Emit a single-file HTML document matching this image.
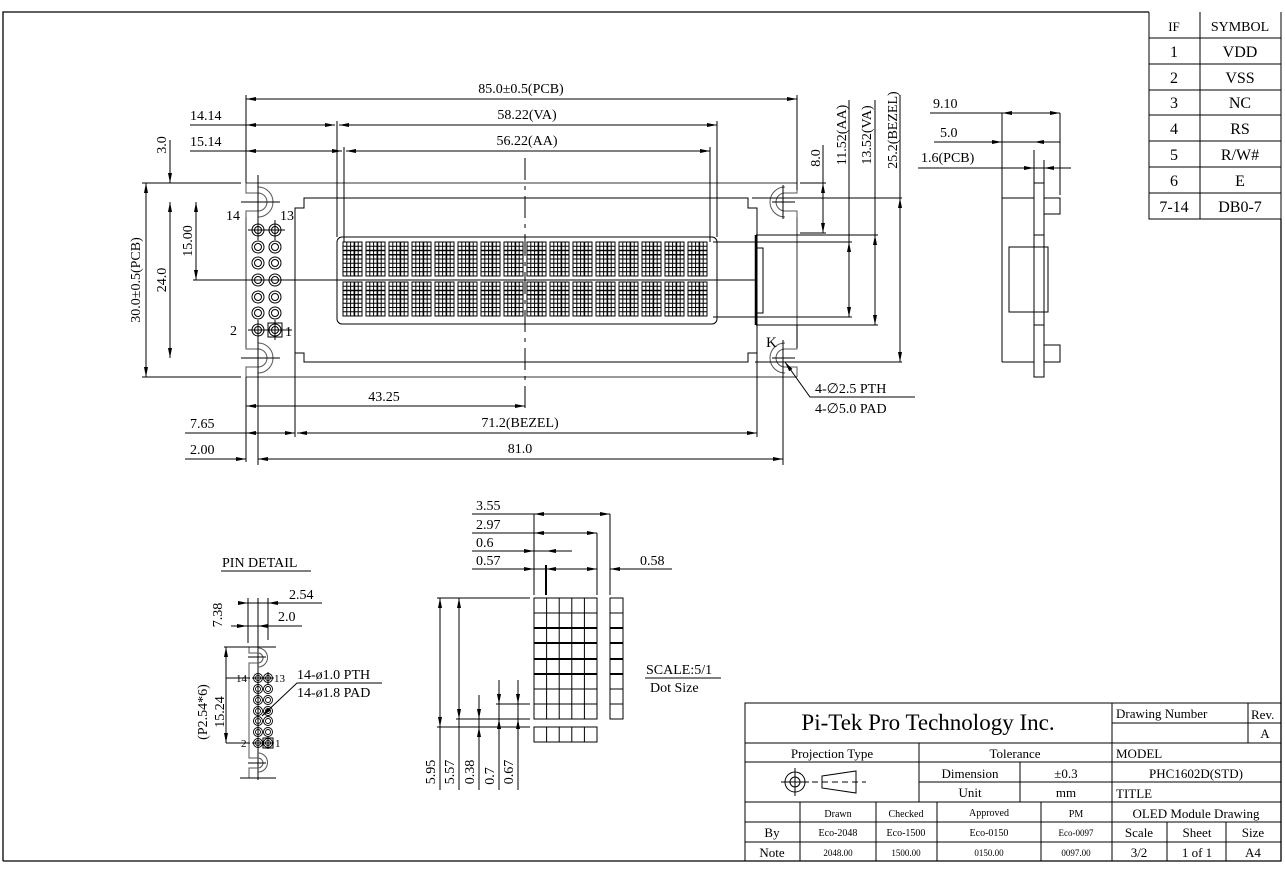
<!DOCTYPE html>
<html><head><meta charset="utf-8"><style>
html,body{margin:0;padding:0;background:#fff;}
svg{display:block;font-family:"Liberation Serif",serif;}
</style></head><body>
<svg width="1285" height="872" viewBox="0 0 1285 872" xmlns="http://www.w3.org/2000/svg">
<defs>
<marker id="m" viewBox="0 0 10 4" refX="10" refY="2" markerWidth="10" markerHeight="4" markerUnits="userSpaceOnUse" orient="auto-start-reverse"><path d="M0,0L10,2L0,4z" fill="#000"/></marker>
<symbol id="ch" viewBox="0 0 19 34" width="19" height="34" overflow="visible">
<g stroke="#000" stroke-width="1" fill="none">
<rect x="0" y="0" width="19" height="34"/>
<path d="M3.8,0V34M7.6,0V34M11.4,0V34M15.2,0V34M0,4.25H19M0,8.5H19M0,12.75H19M0,17H19M0,21.25H19M0,25.5H19M0,29.75H19"/>
<path d="M0,8.5H19M0,12.75H19M11.4,0V34" stroke-width="1.6"/>
</g></symbol>
<symbol id="pin" overflow="visible"><circle r="6" fill="none" stroke="#000"/><circle r="3.5" fill="none" stroke="#000"/></symbol>
<symbol id="pp" overflow="visible"><circle r="4.5" fill="none" stroke="#000" stroke-width="0.9"/><circle r="2.5" fill="none" stroke="#000" stroke-width="0.9"/></symbol>
</defs>
<g fill="none" stroke="#000" stroke-width="1">
<path d="M3,861V12H1149M1281,219V861H3" stroke-width="1.3"/>
<path d="M1149,12V219H1281M1281,12V219M1200,12V219M1149,38H1281M1149,64H1281M1149,90H1281M1149,115H1281M1149,141H1281M1149,167H1281M1149,193H1281"/>

<g stroke="#999" stroke-width="2">
<path d="M246,183H797M246,377H797"/>
<path d="M246,217V348"/>
<path d="M797,217V348"/>
</g>
<g stroke="#555">
<path d="M246,183V193H258A9,9 0 0 1 258,211H246V217M258,187A15,15 0 0 1 258,217"/>
<path d="M246,348V349H258A9,9 0 0 1 258,367H246V377M258,343A15,15 0 0 1 258,373"/>
<path d="M797,183V193H785A9,9 0 0 0 785,211H797V217M785,187A15,15 0 0 0 785,217"/>
<path d="M797,325V349H785A9,9 0 0 0 785,367H797V377M785,343A15,15 0 0 0 785,373"/>
</g>
<path d="M241,202H280M258,175V230M241,358H280M258,340V465M772,202H795M783,185V219M772,358H795M783,340V465"/>
<path d="M304,198H748V208H757V353H748V362H304V353H295V208H304Z"/>
<path d="M295,353V437M757,353V437"/>
<rect x="337" y="237" width="380" height="87" rx="5"/>
<path d="M756,235V325" stroke-width="2.5"/>
<path d="M756,235H878M756,325H878M713,242H852M713,317H852M756,325H797"/>
<rect x="757" y="248" width="6" height="65"/>
<path d="M246,95V183M797,95V190M337,121V237M344,147V242M717,121V237M710,147V242"/>
<path d="M246,377V462M258,377V462M783,377V462"/>
<path d="M752,198H902M755,362H902M800,183H826M800,233H826"/>
<path d="M142,183H241M142,377H241M193,280H755"/>
<path d="M525,158V410" stroke-dasharray="22,6,4,6"/>
<g marker-start="url(#m)" marker-end="url(#m)">
<path d="M246,99H797"/>
<path d="M246,125H335"/><path d="M339,125H717"/>
<path d="M246,151H342"/><path d="M346,151H710"/>
<path d="M823,183V233"/><path d="M849,242V317"/><path d="M875,235V325"/><path d="M900,198V362"/>
<path d="M146,183V377"/><path d="M170,202V358"/><path d="M196,202V280"/>
<path d="M246,406H525"/>
<path d="M246,433H295"/><path d="M297,433H757"/>
<path d="M258,459H783"/>
</g>
<path d="M190,125H246M190,151H246M823,145V183M849,100V242M875,100V235M900,95V198M185,433H246"/>
<path d="M170,140V183" marker-end="url(#m)"/>
<path d="M185,459H246" marker-end="url(#m)"/>
<path d="M915,397H810L785,362" marker-end="url(#m)"/>

<path d="M1002,113V362M1002,198H1034M1002,362H1034"/>
<rect x="1034" y="183" width="10" height="194"/>
<path d="M1034,235H1044M1034,325H1044"/>
<rect x="1044" y="198" width="16" height="16"/>
<rect x="1044" y="345" width="16" height="17"/>
<rect x="1009" y="247" width="39" height="65"/>
<path d="M1034,150V183M1044,160V183M1060,113V195"/>
<path d="M930,113H1060M934,142H1060M918,168H1071"/>
<path d="M1010,113H1002" marker-end="url(#m)"/><path d="M1050,113H1060" marker-end="url(#m)"/>
<path d="M990,142H1002" marker-end="url(#m)"/><path d="M1046,142H1034" marker-end="url(#m)"/>
<path d="M1020,168H1034" marker-end="url(#m)"/><path d="M1056,168H1044" marker-end="url(#m)"/>

<path d="M221,571H311"/>
<path d="M239,603H322M231,626H302M258,598V780M268,598V640M248,598V643"/>
<path d="M239,603H248" marker-end="url(#m)"/><path d="M278,603H268" marker-end="url(#m)"/>
<path d="M231,626H247" marker-end="url(#m)"/><path d="M268,626H258" marker-end="url(#m)"/>
<g stroke="#555">
<path d="M249,647V653H258A5,5 0 0 1 258,663H249V668M258,648A9,9 0 0 1 258,667"/>
<path d="M249,668V752M249,752V758H258A5,5 0 0 1 258,768H249V778M258,753A9,9 0 0 1 258,772"/>
</g>
<path d="M224,647H276M226,678H250M226,743H250M240,778H276M248,657H266M248,763H266"/>
<path d="M226,647V743" marker-start="url(#m)" marker-end="url(#m)"/>
<path d="M382,683H297L262,716" marker-end="url(#m)"/>
<rect x="263" y="738" width="10" height="10"/>
<path d="M252,678H274M252,743H274M258,672V684M268,672V684M268,737V749"/>

<path d="M472,514H610M472,533H597M472,551H572M472,569H597M610,569H672"/>
<path d="M534,514V595M546,565V595M597,533V595M610,514V595"/>
<path d="M546,565V595" stroke-width="2"/>
<path d="M534,514H610" marker-start="url(#m)" marker-end="url(#m)"/>
<path d="M534,533H597" marker-start="url(#m)" marker-end="url(#m)"/>
<path d="M520,551H534" marker-end="url(#m)"/><path d="M560,551H546" marker-end="url(#m)"/>
<path d="M520,569H534" marker-end="url(#m)"/><path d="M546,569H597" marker-start="url(#m)" marker-end="url(#m)"/>
<path d="M624,569H610" marker-end="url(#m)"/>
<rect x="534" y="598" width="63" height="121"/>
<path d="M546.6,598V719M559.2,598V719M571.8,598V719M584.4,598V719M534,613H597M534,628H597M534,643H597M534,659H597M534,674H597M534,689H597M534,704H597"/>
<path d="M534,628H597M534,643H597M534,659H597M534,674H597M610,628H623M610,643H623M610,659H623M610,674H623" stroke-width="2"/>
<rect x="610" y="598" width="13" height="121"/>
<path d="M610,613H623M610,628H623M610,643H623M610,659H623M610,674H623M610,689H623M610,704H623"/>
<rect x="534" y="727" width="63" height="15"/>
<path d="M546.6,727V742M559.2,727V742M571.8,727V742M584.4,727V742"/>
<path d="M437,598H530M456,719H530M437,727H530M496,704H530"/>
<path d="M440,598V727" marker-start="url(#m)" marker-end="url(#m)"/>
<path d="M459,598V719" marker-start="url(#m)" marker-end="url(#m)"/>
<path d="M440,727V790M459,719V790M479,695V790M499,680V790M518,680V790"/>
<path d="M479,695V719" marker-end="url(#m)"/><path d="M479,760V727" marker-end="url(#m)"/>
<path d="M499,680V704" marker-end="url(#m)"/><path d="M499,760V719" marker-end="url(#m)"/>
<path d="M518,680V704" marker-end="url(#m)"/><path d="M518,760V719" marker-end="url(#m)"/>
<path d="M645,678H721"/>

<rect x="745" y="703" width="536" height="158"/>
<path d="M745,743H1281M745,762H1112M1112,762H1281M919,782H1112M1112,782H1281M745,802H1281M745,822H1281M745,842H1281"/>
<path d="M1112,703V861M1248,703V743M1112,723H1281M919,743V802M1020,762V802M800,802V861M876,802V861M937,802V861M1041,802V861M1167,822V861M1226,822V861"/>
<circle cx="795" cy="782" r="10"/><circle cx="795" cy="782" r="5"/>
<path d="M781,782H809M795,768V796"/>
<path d="M822,776L856,771V793L822,788Z"/>
<path d="M812,782H866" stroke-dasharray="6,4"/>
</g>

<g>
<use href="#pin" x="258" y="230"/><use href="#pin" x="275" y="230"/>
<use href="#pin" x="258" y="247"/><use href="#pin" x="275" y="247"/>
<use href="#pin" x="258" y="263"/><use href="#pin" x="275" y="263"/>
<use href="#pin" x="258" y="280"/><use href="#pin" x="275" y="280"/>
<use href="#pin" x="258" y="297"/><use href="#pin" x="275" y="297"/>
<use href="#pin" x="258" y="313"/><use href="#pin" x="275" y="313"/>
<use href="#pin" x="258" y="330"/><use href="#pin" x="275" y="330"/>
</g>
<g stroke="#000" fill="none"><path d="M248,230H285M258,220V240M275,220V240M248,330H292M258,320V340M275,320V340"/><rect x="268" y="323" width="14" height="14"/></g>
<g>
<use href="#pp" x="258" y="678"/><use href="#pp" x="268" y="678"/>
<use href="#pp" x="258" y="689"/><use href="#pp" x="268" y="689"/>
<use href="#pp" x="258" y="700"/><use href="#pp" x="268" y="700"/>
<use href="#pp" x="258" y="711"/><use href="#pp" x="268" y="711"/>
<use href="#pp" x="258" y="721"/><use href="#pp" x="268" y="721"/>
<use href="#pp" x="258" y="732"/><use href="#pp" x="268" y="732"/>
<use href="#pp" x="258" y="743"/><use href="#pp" x="268" y="743"/>
</g>
<g>
<use href="#ch" x="343" y="242"/><use href="#ch" x="366" y="242"/><use href="#ch" x="389" y="242"/><use href="#ch" x="412" y="242"/>
<use href="#ch" x="435" y="242"/><use href="#ch" x="458" y="242"/><use href="#ch" x="481" y="242"/><use href="#ch" x="504" y="242"/>
<use href="#ch" x="527" y="242"/><use href="#ch" x="550" y="242"/><use href="#ch" x="573" y="242"/><use href="#ch" x="596" y="242"/>
<use href="#ch" x="619" y="242"/><use href="#ch" x="642" y="242"/><use href="#ch" x="665" y="242"/><use href="#ch" x="688" y="242"/>
<use href="#ch" x="343" y="282"/><use href="#ch" x="366" y="282"/><use href="#ch" x="389" y="282"/><use href="#ch" x="412" y="282"/>
<use href="#ch" x="435" y="282"/><use href="#ch" x="458" y="282"/><use href="#ch" x="481" y="282"/><use href="#ch" x="504" y="282"/>
<use href="#ch" x="527" y="282"/><use href="#ch" x="550" y="282"/><use href="#ch" x="573" y="282"/><use href="#ch" x="596" y="282"/>
<use href="#ch" x="619" y="282"/><use href="#ch" x="642" y="282"/><use href="#ch" x="665" y="282"/><use href="#ch" x="688" y="282"/>
</g>

<g font-size="14" fill="#000">
<text x="521" y="93" text-anchor="middle">85.0±0.5(PCB)</text>
<text x="190" y="120">14.14</text>
<text x="527" y="119" text-anchor="middle">58.22(VA)</text>
<text x="190" y="146">15.14</text>
<text x="527" y="145" text-anchor="middle">56.22(AA)</text>
<text transform="translate(820,158) rotate(-90)" text-anchor="middle">8.0</text>
<text transform="translate(846,135) rotate(-90)" text-anchor="middle">11.52(AA)</text>
<text transform="translate(871,135) rotate(-90)" text-anchor="middle">13.52(VA)</text>
<text transform="translate(897,130) rotate(-90)" text-anchor="middle">25.2(BEZEL)</text>
<text transform="translate(166,145) rotate(-90)" text-anchor="middle">3.0</text>
<text transform="translate(140,280) rotate(-90)" text-anchor="middle">30.0±0.5(PCB)</text>
<text transform="translate(166,280) rotate(-90)" text-anchor="middle">24.0</text>
<text transform="translate(192,241) rotate(-90)" text-anchor="middle">15.00</text>
<text x="226" y="220">14</text><text x="280" y="220">13</text>
<text x="230" y="335">2</text><text x="285" y="336">1</text>
<text x="384" y="401" text-anchor="middle">43.25</text>
<text x="190" y="428">7.65</text>
<text x="520" y="427" text-anchor="middle">71.2(BEZEL)</text>
<text x="190" y="454">2.00</text>
<text x="520" y="453" text-anchor="middle">81.0</text>
<text x="766" y="347" font-size="15">K</text>
<text x="815" y="393">4-∅2.5 PTH</text>
<text x="815" y="413">4-∅5.0 PAD</text>
<text x="933" y="108">9.10</text>
<text x="940" y="137">5.0</text>
<text x="921" y="162">1.6(PCB)</text>
<text x="1174" y="31" text-anchor="middle" font-size="13">IF</text>
<text x="1240" y="31" text-anchor="middle">SYMBOL</text>
<g font-size="16" text-anchor="middle">
<text x="1174" y="57">1</text><text x="1240" y="57">VDD</text>
<text x="1174" y="83">2</text><text x="1240" y="83">VSS</text>
<text x="1174" y="108">3</text><text x="1240" y="108">NC</text>
<text x="1174" y="134">4</text><text x="1240" y="134">RS</text>
<text x="1174" y="160">5</text><text x="1240" y="160">R/W#</text>
<text x="1174" y="186">6</text><text x="1240" y="186">E</text>
<text x="1174" y="212">7-14</text><text x="1240" y="212">DB0-7</text>
</g>
<text x="222" y="567">PIN DETAIL</text>
<text x="289" y="599">2.54</text>
<text x="278" y="621">2.0</text>
<text transform="translate(222,615) rotate(-90)" text-anchor="middle">7.38</text>
<text transform="translate(207,712) rotate(-90)" text-anchor="middle">(P2.54*6)</text>
<text transform="translate(224,712) rotate(-90)" text-anchor="middle">15.24</text>
<text x="236" y="682" font-size="11">14</text><text x="274" y="682" font-size="11">13</text>
<text x="241" y="747" font-size="11">2</text><text x="275" y="747" font-size="11">1</text>
<text x="297" y="679">14-ø1.0 PTH</text>
<text x="297" y="697">14-ø1.8 PAD</text>
<text x="476" y="510">3.55</text>
<text x="476" y="529">2.97</text>
<text x="476" y="547">0.6</text>
<text x="476" y="565">0.57</text>
<text x="640" y="565">0.58</text>
<text transform="translate(435,772) rotate(-90)" text-anchor="middle">5.95</text>
<text transform="translate(454,772) rotate(-90)" text-anchor="middle">5.57</text>
<text transform="translate(474,772) rotate(-90)" text-anchor="middle">0.38</text>
<text transform="translate(494,776) rotate(-90)" text-anchor="middle">0.7</text>
<text transform="translate(513,772) rotate(-90)" text-anchor="middle">0.67</text>
<text x="646" y="674">SCALE:5/1</text>
<text x="650" y="692">Dot Size</text>
<text x="928" y="730" text-anchor="middle" font-size="23">Pi-Tek Pro Technology Inc.</text>
<text x="1116" y="718" font-size="13">Drawing Number</text>
<text x="1251" y="719" font-size="13">Rev.</text>
<text x="1265" y="738" font-size="13" text-anchor="middle">A</text>
<text x="832" y="758" text-anchor="middle" font-size="13">Projection Type</text>
<text x="1015" y="758" text-anchor="middle" font-size="13">Tolerance</text>
<text x="970" y="778" text-anchor="middle" font-size="13">Dimension</text>
<text x="1066" y="778" text-anchor="middle" font-size="13">±0.3</text>
<text x="970" y="797" text-anchor="middle" font-size="13">Unit</text>
<text x="1066" y="797" text-anchor="middle" font-size="13">mm</text>
<text x="1116" y="758" font-size="13">MODEL</text>
<text x="1196" y="778" text-anchor="middle" font-size="13">PHC1602D(STD)</text>
<text x="1116" y="798" font-size="13">TITLE</text>
<text x="1196" y="818" text-anchor="middle" font-size="13">OLED Module Drawing</text>
<text x="838" y="817" text-anchor="middle" font-size="10">Drawn</text>
<text x="906" y="817" text-anchor="middle" font-size="10">Checked</text>
<text x="989" y="816" text-anchor="middle" font-size="10">Approved</text>
<text x="1076" y="817" text-anchor="middle" font-size="10">PM</text>
<text x="772" y="837" text-anchor="middle" font-size="13">By</text>
<text x="838" y="836" text-anchor="middle" font-size="10">Eco-2048</text>
<text x="906" y="836" text-anchor="middle" font-size="10">Eco-1500</text>
<text x="989" y="836" text-anchor="middle" font-size="10">Eco-0150</text>
<text x="1076" y="836" text-anchor="middle" font-size="9">Eco-0097</text>
<text x="1139" y="837" text-anchor="middle" font-size="13">Scale</text>
<text x="1197" y="837" text-anchor="middle" font-size="13">Sheet</text>
<text x="1253" y="837" text-anchor="middle" font-size="13">Size</text>
<text x="772" y="857" text-anchor="middle" font-size="13">Note</text>
<text x="838" y="856" text-anchor="middle" font-size="9">2048.00</text>
<text x="906" y="856" text-anchor="middle" font-size="9">1500.00</text>
<text x="989" y="856" text-anchor="middle" font-size="9">0150.00</text>
<text x="1076" y="856" text-anchor="middle" font-size="9">0097.00</text>
<text x="1139" y="857" text-anchor="middle" font-size="13">3/2</text>
<text x="1197" y="857" text-anchor="middle" font-size="13">1 of 1</text>
<text x="1253" y="857" text-anchor="middle" font-size="13">A4</text>
</g>
</svg>
</body></html>
